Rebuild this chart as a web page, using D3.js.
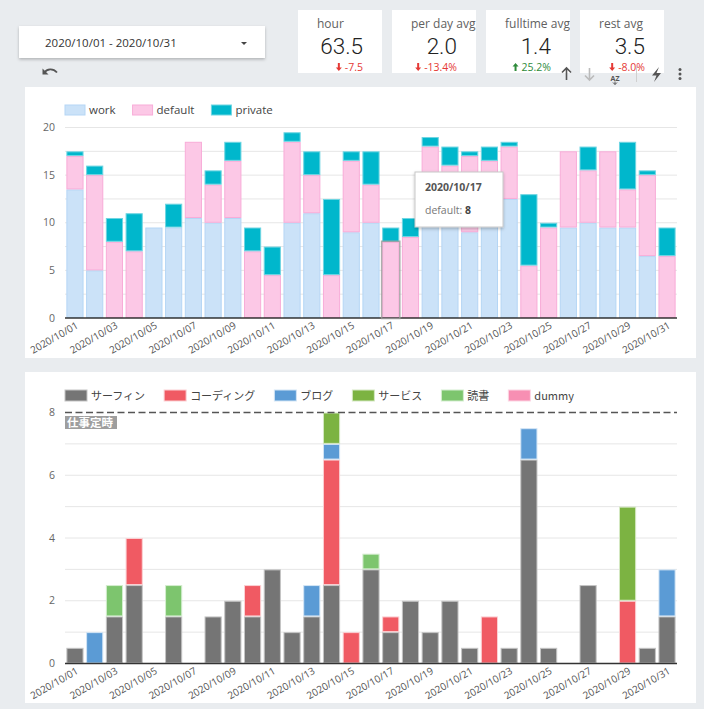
<!DOCTYPE html>
<html>
<head>
<meta charset="utf-8">
<script src="https://cdn.jsdelivr.net/npm/d3@7"></script>
<style>
  body { margin: 0; background: #e9ecef; }
  svg { display: block; font-family: 'Open Sans', sans-serif; }
</style>
</head>
<body>
<svg id="page" width="704" height="709"></svg>
<script>
(function () {
  'use strict';

  // ---- Data ----
  const DAYS = [
    '2020/10/01', '2020/10/02', '2020/10/03', '2020/10/04', '2020/10/05', '2020/10/06',
    '2020/10/07', '2020/10/08', '2020/10/09', '2020/10/10', '2020/10/11', '2020/10/12',
    '2020/10/13', '2020/10/14', '2020/10/15', '2020/10/16', '2020/10/17', '2020/10/18',
    '2020/10/19', '2020/10/20', '2020/10/21', '2020/10/22', '2020/10/23', '2020/10/24',
    '2020/10/25', '2020/10/26', '2020/10/27', '2020/10/28', '2020/10/29', '2020/10/30',
    '2020/10/31'
  ];

  // top chart (hours per day)
  const WORK = [13.5, 5, 0, 0, 9.5, 9.5, 10.5, 10, 10.5, 0, 0, 10, 11, 0, 9, 10, 0, 0, 10, 10, 9, 10, 12.5, 0, 0, 9.5, 10, 9.5, 9.5, 6.5, 0];
  const DEFAULT = [3.5, 10, 8, 7, 0, 0, 8, 4, 6, 7, 4.5, 8.5, 4, 4.5, 7.5, 4, 8, 8.5, 8, 6, 8, 6.5, 5.5, 5.5, 9.5, 8, 5.5, 8, 4, 8.5, 6.5];
  const PRIVATE = [0.5, 1, 2.5, 4, 0, 2.5, 0, 1.5, 2, 2.5, 3, 1, 2.5, 8, 1, 3.5, 1.5, 2, 1, 2, 0.5, 1.5, 0.5, 7.5, 0.5, 0, 2.5, 0, 5, 0.5, 3];

  // bottom chart (work breakdown)
  const SURFING = [0.5, 0, 1.5, 2.5, 0, 1.5, 0, 1.5, 2, 1.5, 3, 1, 1.5, 2.5, 0, 3, 1, 2, 1, 2, 0.5, 0, 0.5, 6.5, 0.5, 0, 2.5, 0, 0, 0.5, 1.5];
  const CODING = [0, 0, 0, 1.5, 0, 0, 0, 0, 0, 1, 0, 0, 0, 4, 1, 0, 0.5, 0, 0, 0, 0, 1.5, 0, 0, 0, 0, 0, 0, 2, 0, 0];
  const BLOG = [0, 1, 0, 0, 0, 0, 0, 0, 0, 0, 0, 0, 1, 0.5, 0, 0, 0, 0, 0, 0, 0, 0, 0, 1, 0, 0, 0, 0, 0, 0, 1.5];
  const SERVICE = [0, 0, 0, 0, 0, 0, 0, 0, 0, 0, 0, 0, 0, 1, 0, 0, 0, 0, 0, 0, 0, 0, 0, 0, 0, 0, 0, 0, 3, 0, 0];
  const READING = [0, 0, 1, 0, 0, 1, 0, 0, 0, 0, 0, 0, 0, 0, 0, 0.5, 0, 0, 0, 0, 0, 0, 0, 0, 0, 0, 0, 0, 0, 0, 0];
  const DUMMY = DAYS.map(function () { return 0; });
  const WORK_LIMIT = 8;

  // tick labels
  const TOP_TICKS = [0, 5, 10, 15, 20];
  const BOTTOM_TICKS = [0, 2, 4, 6, 8];
  const X_LABELS = DAYS.filter(function (d, i) { return i % 2 === 0; });

  // scorecards
  const CARD_TITLES = ['hour', 'per day avg', 'fulltime avg', 'rest avg'];
  const CARD_VALUES = ['63.5', '2.0', '1.4', '3.5'];
  const CARD_DELTAS = ['-7.5', '-13.4%', '25.2%', '-8.0%'];
  const CARD_UP = [false, false, true, false];

  const TOP_SERIES = [
    { key: 'work', values: WORK, fill: '#cbe2f8', stroke: '#b5d6f5' },
    { key: 'default', values: DEFAULT, fill: '#fcc8e6', stroke: '#f8acd8' },
    { key: 'private', values: PRIVATE, fill: '#00b7cc', stroke: '#6fd5e2' }
  ];
  const BOTTOM_SERIES = [
    { key: 'サーフィン', values: SURFING, fill: '#757575', stroke: '#c4c4c4' },
    { key: 'コーディング', values: CODING, fill: '#f05a63', stroke: '#fbd0d3' },
    { key: 'ブログ', values: BLOG, fill: '#5b9bd5', stroke: '#d3e5f5' },
    { key: 'サービス', values: SERVICE, fill: '#7cb342', stroke: '#d5e8c3' },
    { key: '読書', values: READING, fill: '#7dc56e', stroke: '#d4edcf' },
    { key: 'dummy', values: DUMMY, fill: '#f78fb3', stroke: '#fcd5e3' }
  ];

  const svg = d3.select('#page');

  const defs = svg.append('defs');
  const shadow = defs.append('filter').attr('id', 'shadow')
    .attr('x', '-10%').attr('y', '-30%').attr('width', '120%').attr('height', '170%');
  shadow.append('feDropShadow').attr('dx', 0).attr('dy', 1.5).attr('stdDeviation', 1.5)
    .attr('flood-color', '#000').attr('flood-opacity', 0.25);

  svg.append('rect').attr('width', 704).attr('height', 709).attr('fill', '#e9ecef');

  // ---- Header: date range selector ----
  svg.append('rect').attr('x', 19).attr('y', 26).attr('width', 246).attr('height', 32)
    .attr('fill', '#fff').attr('filter', 'url(#shadow)');
  svg.append('text').attr('x', 45).attr('y', 46.5).attr('font-size', 11.5).attr('fill', '#333')
    .text('2020/10/01 - 2020/10/31');
  svg.append('path').attr('d', 'M241,42 h6 l-3,3 z').attr('fill', '#444');

  // undo icon
  svg.append('path')
    .attr('d', 'M44,73 C47,68.5 53,68 57,72.5')
    .attr('fill', 'none').attr('stroke', '#555').attr('stroke-width', 1.8);
  svg.append('path').attr('d', 'M42.5,68.5 L42.5,74.5 L48.5,74.5 Z').attr('fill', '#555');

  // ---- Scorecards ----
  const cardX = [298, 392, 486, 580];
  const cards = svg.selectAll('g.card').data(CARD_TITLES).enter().append('g')
    .attr('class', 'card')
    .attr('transform', function (d, i) { return 'translate(' + cardX[i] + ',10)'; });

  cards.each(function (d, i) {
    const g = d3.select(this);
    defs.append('clipPath').attr('id', 'card-clip-' + i)
      .append('rect').attr('width', 84).attr('height', 63);
    g.attr('clip-path', 'url(#card-clip-' + i + ')');
    g.append('rect').attr('width', 84).attr('height', 63).attr('fill', '#fff');
    g.append('text').attr('x', 19).attr('y', 18).attr('font-size', 12).attr('fill', '#616161')
      .text(d);
    g.append('text').attr('x', 65).attr('y', 43.5).attr('text-anchor', 'end')
      .attr('font-family', 'Roboto, sans-serif').attr('font-weight', 300)
      .attr('font-size', 22.5).attr('fill', '#222').text(CARD_VALUES[i]);
    const color = CARD_UP[i] ? '#2e8b3a' : '#e53935';
    const delta = g.append('text').attr('x', 65).attr('y', 61).attr('text-anchor', 'end')
      .attr('font-size', 10.5).attr('fill', color).text(CARD_DELTAS[i]);
    const w = delta.node().getComputedTextLength();
    const ax = 65 - w - 6;
    const arrow = CARD_UP[i]
      ? 'M' + ax + ',53 l-3,3.5 h2 v4.5 h2 v-4.5 h2 z'
      : 'M' + ax + ',61 l-3,-3.5 h2 v-4.5 h2 v4.5 h2 z';
    g.append('path').attr('d', arrow).attr('fill', color);
  });

  // ---- Toolbar icons ----
  const tb = svg.append('g').attr('fill', 'none').attr('stroke-width', 1.6);
  tb.append('path').attr('d', 'M566.5,80 V68 M562,72.5 L566.5,68 L571,72.5').attr('stroke', '#555');
  tb.append('path').attr('d', 'M589.5,68 V80 M585,75.5 L589.5,80 L594,75.5').attr('stroke', '#bbb');
  svg.append('text').attr('x', 615).attr('y', 80.5).attr('text-anchor', 'middle')
    .attr('font-size', 7).attr('font-weight', 700).attr('fill', '#555').text('AZ');
  tb.append('path').attr('d', 'M615,81.5 V84.5 M613,82.5 L615,84.5 L617,82.5').attr('stroke', '#555').attr('stroke-width', 1);
  tb.append('path').attr('d', 'M636.5,66 V82').attr('stroke', '#d0d0d0').attr('stroke-width', 1);
  svg.append('path').attr('d', 'M659,67 L652,75.5 H656.5 L654,82 L661,73 H656.5 Z').attr('fill', '#555');
  svg.selectAll('circle.dot').data([69.5, 74, 78.5]).enter().append('circle')
    .attr('class', 'dot').attr('cx', 680).attr('cy', function (d) { return d; })
    .attr('r', 1.5).attr('fill', '#555');

  // ---- Shared helpers ----
  const x = d3.scaleBand().domain(DAYS).range([65, 677]).paddingInner(0.13).paddingOuter(0.07);

  function drawPanel(y0, h) {
    svg.append('rect').attr('x', 25).attr('y', y0).attr('width', 671).attr('height', h).attr('fill', '#fff');
  }

  function drawLegend(series, y, sw, sh, fontSize, fontFamily, gap) {
    const g = svg.append('g');
    let cx = 65;
    series.forEach(function (s) {
      g.append('rect').attr('x', cx).attr('y', y).attr('width', sw).attr('height', sh)
        .attr('fill', s.fill).attr('stroke', s.stroke).attr('stroke-width', 1);
      const t = g.append('text').attr('x', cx + sw + 4).attr('y', y + sh - 1)
        .attr('font-size', fontSize).attr('font-family', fontFamily).attr('fill', '#444')
        .text(s.key);
      cx += sw + 4 + t.node().getComputedTextLength() + gap;
    });
  }

  function drawXAxis(yBase) {
    svg.append('line').attr('x1', 65).attr('x2', 677).attr('y1', yBase).attr('y2', yBase)
      .attr('stroke', '#333').attr('stroke-width', 1.5);
    svg.append('g').selectAll('text').data(X_LABELS).enter().append('text')
      .attr('transform', function (d) {
        return 'translate(' + (x(d) + x.bandwidth() / 2 + 4) + ',' + (yBase + 9.5) + ') rotate(-30)';
      })
      .attr('text-anchor', 'end').attr('font-size', 10).attr('fill', '#555')
      .text(function (d) { return d; });
  }

  function drawStack(series, y) {
    const rows = DAYS.map(function (d, i) {
      const row = { day: d };
      series.forEach(function (s) { row[s.key] = s.values[i]; });
      return row;
    });
    const stacked = d3.stack().keys(series.map(function (s) { return s.key; }))(rows);
    stacked.forEach(function (layer, li) {
      const s = series[li];
      svg.append('g').selectAll('rect')
        .data(layer.filter(function (d) { return d[1] - d[0] > 0; }))
        .enter().append('rect')
        .attr('x', function (d) { return x(d.data.day) + 0.5; })
        .attr('width', x.bandwidth() - 1)
        .attr('y', function (d) { return y(d[1]) + 0.5; })
        .attr('height', function (d) { return Math.max(0, y(d[0]) - y(d[1]) - 1); })
        .attr('fill', s.fill)
        .attr('stroke', s.stroke)
        .attr('stroke-width', 1);
    });
    return stacked;
  }

  // ---- Top chart ----
  drawPanel(87, 271);
  const yTop = d3.scaleLinear().domain([0, 20]).range([318, 127.5]);

  svg.append('g').selectAll('line').data(d3.range(2.5, 20.01, 2.5)).enter().append('line')
    .attr('x1', 65).attr('x2', 677)
    .attr('y1', function (d) { return yTop(d); }).attr('y2', function (d) { return yTop(d); })
    .attr('stroke', '#e6e6e6');
  svg.append('g').selectAll('text').data(TOP_TICKS).enter().append('text')
    .attr('x', 55).attr('y', function (d) { return yTop(d) + 3.5; })
    .attr('text-anchor', 'end').attr('font-size', 10.5).attr('fill', '#666')
    .text(function (d) { return d; });

  const topStack = drawStack(TOP_SERIES, yTop);
  drawXAxis(318);
  drawLegend(TOP_SERIES, 105, 20, 10, 11.5, "'Open Sans', sans-serif", 17);

  // hovered bar highlight (2020/10/17 default)
  const hi = topStack[1][16];
  svg.append('rect')
    .attr('x', x(DAYS[16]) - 0.5).attr('width', x.bandwidth() + 1)
    .attr('y', yTop(hi[1]) - 0.5).attr('height', yTop(hi[0]) - yTop(hi[1]) + 1)
    .attr('fill', 'none').attr('stroke', '#999').attr('stroke-opacity', 0.8).attr('stroke-width', 1.5);

  // tooltip
  const tip = svg.append('g').attr('transform', 'translate(415,172)');
  tip.append('rect').attr('width', 88).attr('height', 55).attr('fill', '#fff')
    .attr('stroke', '#c8c8c8').attr('filter', 'url(#shadow)');
  tip.append('text').attr('x', 10).attr('y', 19).attr('font-size', 10.5).attr('font-weight', 700)
    .attr('fill', '#555').text(DAYS[16]);
  const tipLine = tip.append('text').attr('x', 10).attr('y', 42).attr('font-size', 10.5).attr('fill', '#777');
  tipLine.append('tspan').text('default: ');
  tipLine.append('tspan').attr('font-weight', 700).attr('fill', '#444').text(DEFAULT[16]);

  // ---- Bottom chart ----
  drawPanel(372, 331);
  const yBot = d3.scaleLinear().domain([0, 8]).range([663.5, 412.5]);

  svg.append('g').selectAll('line').data(d3.range(1, 8)).enter().append('line')
    .attr('x1', 65).attr('x2', 677)
    .attr('y1', function (d) { return yBot(d); }).attr('y2', function (d) { return yBot(d); })
    .attr('stroke', '#e6e6e6');
  svg.append('g').selectAll('text').data(BOTTOM_TICKS).enter().append('text')
    .attr('x', 55).attr('y', function (d) { return yBot(d) + 3.5; })
    .attr('text-anchor', 'end').attr('font-size', 10.5).attr('fill', '#666')
    .text(function (d) { return d; });

  drawStack(BOTTOM_SERIES, yBot);

  // reference line (work hours)
  svg.append('line').attr('x1', 65).attr('x2', 677)
    .attr('y1', yBot(WORK_LIMIT)).attr('y2', yBot(WORK_LIMIT))
    .attr('stroke', '#555').attr('stroke-width', 1.3).attr('stroke-dasharray', '7,3.5');
  svg.append('rect').attr('x', 65).attr('y', yBot(WORK_LIMIT) + 3.5).attr('width', 52).attr('height', 13)
    .attr('fill', '#9e9e9e');
  svg.append('text').attr('x', 67).attr('y', yBot(WORK_LIMIT) + 14)
    .attr('font-family', "'Noto Sans CJK JP', sans-serif").attr('font-size', 11.5)
    .attr('font-weight', 700).attr('fill', '#fff').text('仕事定時');

  drawXAxis(663.5);
  drawLegend(BOTTOM_SERIES, 390, 22, 11, 11, "'Noto Sans CJK JP', 'Open Sans', sans-serif", 19);
})();
</script>
</body>
</html>
